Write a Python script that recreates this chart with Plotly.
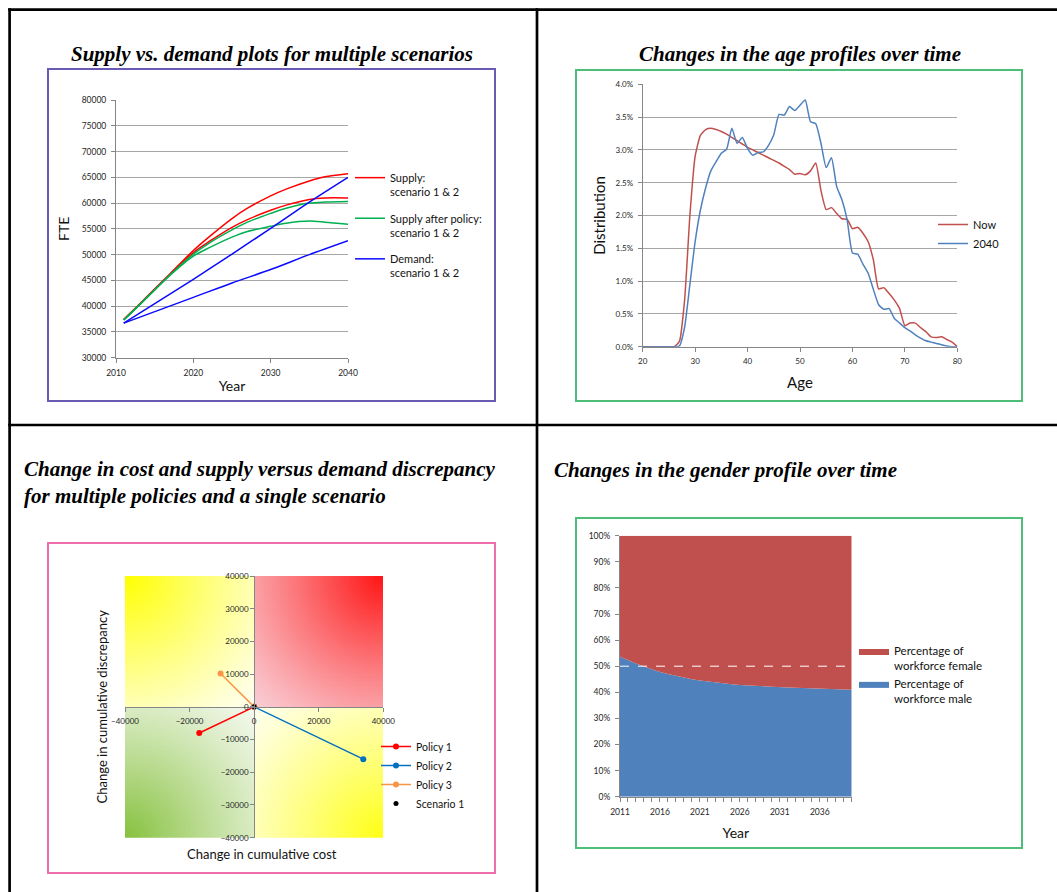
import numpy as np
import plotly.graph_objects as go

W, H = 1057, 892


def px(x):
    return x / W


def py(y):
    return 1 - y / H


# ---------------- Panel 1: supply vs demand ----------------
SUPPLY_YEARS = [2011, 2013, 2015, 2017, 2020, 2022, 2025, 2027, 2030, 2032, 2035, 2037, 2040]
SUPPLY_S1 = [37400, 40300, 43300, 46300, 50800, 53400, 57000, 59000, 61400, 62700, 64300, 65100, 65700]
SUPPLY_S2 = [37400, 40300, 43300, 46200, 50400, 52500, 55300, 56800, 58600, 59600, 60700, 61000, 61000]
POLICY_S1 = [37300, 40200, 43200, 46100, 50100, 52200, 54800, 56300, 58000, 59000, 60000, 60200, 60300]
POLICY_S2 = [37300, 40200, 43100, 46000, 49700, 51300, 53400, 54500, 55500, 56100, 56500, 56300, 55900]
DEMAND_YEARS = [2011, 2020, 2025, 2030, 2035, 2040]
DEMAND_S1 = [36700, 45200, 50100, 55100, 60200, 65000]
DEMAND_S2 = [36700, 41700, 44500, 47100, 50000, 52700]

# ---------------- Panel 2: age profiles ----------------
AGES = list(range(20, 81))
DIST_NOW = [0, 0, 0, 0, 0, 0, 0.0, 0.08, 0.72, 2.0, 2.9,
            3.22, 3.31, 3.33, 3.31, 3.28, 3.24, 3.19, 3.14, 3.09, 3.04,
            3.00, 2.96, 2.92, 2.88, 2.84, 2.80, 2.75, 2.70, 2.63, 2.64,
            2.62, 2.68, 2.80, 2.38, 2.09, 2.12, 2.03, 1.95, 1.94, 1.80,
            1.82, 1.73, 1.60, 1.32, 0.88, 0.90, 0.81, 0.71, 0.58, 0.32,
            0.36, 0.36, 0.29, 0.23, 0.15, 0.14, 0.15, 0.11, 0.07, 0.0]
DIST_2040 = [0, 0, 0, 0, 0, 0, 0.0, 0.01, 0.30, 0.95, 1.60,
             2.08, 2.42, 2.68, 2.82, 2.95, 3.01, 3.33, 3.10, 3.19, 3.02,
             2.92, 2.96, 2.97, 3.07, 3.23, 3.54, 3.53, 3.66, 3.60, 3.68,
             3.76, 3.43, 3.40, 3.10, 2.73, 2.88, 2.44, 2.24, 1.93, 1.43,
             1.41, 1.26, 1.12, 0.87, 0.64, 0.57, 0.58, 0.43, 0.36, 0.29,
             0.24, 0.18, 0.13, 0.09, 0.07, 0.05, 0.03, 0.01, 0.0, 0.0]

# ---------------- Panel 3: cost vs discrepancy ----------------
POLICIES = ["Policy 1", "Policy 2", "Policy 3"]
POLICY_COLORS = ["#ff0000", "#0070c0", "#f79646"]
COST_CHANGE = [-17000, 33800, -10400]
DISCREPANCY_CHANGE = [-8000, -16000, 10200]
SCENARIO_COST = [0]
SCENARIO_DISC = [0]

# ---------------- Panel 4: gender profile ----------------
GENDER_YEARS = list(range(2011, 2041))
MALE_PCT = [53.6, 52.2, 51.0, 49.9, 48.8, 47.8, 47.0, 46.3, 45.6, 45.0,
            44.5, 44.1, 43.7, 43.4, 43.1, 42.8, 42.6, 42.4, 42.2, 42.0,
            41.9, 41.8, 41.7, 41.6, 41.5, 41.4, 41.3, 41.2, 41.1, 41.0]
FEMALE_PCT = [46.4, 47.8, 49.0, 50.1, 51.2, 52.2, 53.0, 53.7, 54.4, 55.0,
              55.5, 55.9, 56.3, 56.6, 56.9, 57.2, 57.4, 57.6, 57.8, 58.0,
              58.1, 58.2, 58.3, 58.4, 58.5, 58.6, 58.7, 58.8, 58.9, 59.0]
PARITY = 50

SANS = "Lato"
SERIF = "Liberation Serif"
TICK_COL = "#262626"
AX_COL = "#868686"
GRID_COL = "#a6a6a6"

fig = go.Figure()

# ---- Panel 1 traces
def p1_line(x, y, name, color, show, group):
    fig.add_trace(go.Scatter(
        x=x, y=y, name=name, mode="lines", legendgroup=group, showlegend=show,
        line=dict(color=color, width=1.5, shape="spline", smoothing=0.8),
        xaxis="x", yaxis="y", legend="legend", hoverinfo="skip"))

p1_line(SUPPLY_YEARS, SUPPLY_S1, "Supply:<br>scenario 1 & 2", "#ff0000", True, "sup")
p1_line(SUPPLY_YEARS, SUPPLY_S2, "Supply:<br>scenario 1 & 2", "#ff0000", False, "sup")
p1_line(SUPPLY_YEARS, POLICY_S1, "Supply after policy:<br>scenario 1 & 2", "#00b050", True, "pol")
p1_line(SUPPLY_YEARS, POLICY_S2, "Supply after policy:<br>scenario 1 & 2", "#00b050", False, "pol")
p1_line(DEMAND_YEARS, DEMAND_S1, "Demand:<br>scenario 1 & 2", "#0a0aff", True, "dem")
p1_line(DEMAND_YEARS, DEMAND_S2, "Demand:<br>scenario 1 & 2", "#0a0aff", False, "dem")

# ---- Panel 2 traces
fig.add_trace(go.Scatter(x=AGES, y=DIST_NOW, name="Now", mode="lines",
                         line=dict(color="#c0504d", width=1.5, shape="spline", smoothing=0.5),
                         xaxis="x2", yaxis="y2", legend="legend2", hoverinfo="skip"))
fig.add_trace(go.Scatter(x=AGES, y=DIST_2040, name="2040", mode="lines",
                         line=dict(color="#4f81bd", width=1.5, shape="spline", smoothing=0.5),
                         xaxis="x2", yaxis="y2", legend="legend2", hoverinfo="skip"))

# ---- Panel 3 background gradient (decorative quadrants)
QUAD_COLORS = [("#fffff0", "#ffff00"),   # top-left
               ("#f9cdd4", "#ff1414"),   # top-right
               ("#f4f9ee", "#86c13e"),   # bottom-left
               ("#ffffee", "#ffff14")]   # bottom-right
cscale = []
for q, (c0, c1) in enumerate(QUAD_COLORS):
    cscale.append([q / 4, c0])
    cscale.append([(q + 1) / 4 - (1e-6 if q < 3 else 0), c1])
g = np.arange(-40000 + 250, 40000, 500)
GX, GY = np.meshgrid(g, g)
dist = np.hypot(40000 - np.abs(GX), 40000 - np.abs(GY)) / 40000
strength = np.clip(1 - dist / np.sqrt(2), 0, 0.999) ** 1.15
quad = np.where(GY >= 0, np.where(GX < 0, 0, 1), np.where(GX < 0, 2, 3))
fig.add_trace(go.Heatmap(x=g, y=g, z=quad + strength, zmin=0, zmax=4, colorscale=cscale,
                         showscale=False, hoverinfo="skip", xaxis="x3", yaxis="y3",
                         showlegend=False))

for name, col, cx, cy in zip(POLICIES, POLICY_COLORS, COST_CHANGE, DISCREPANCY_CHANGE):
    fig.add_trace(go.Scatter(x=[SCENARIO_COST[0], cx], y=[SCENARIO_DISC[0], cy], name=name,
                             mode="lines+markers", line=dict(color=col, width=1.5),
                             marker=dict(color=col, size=6), xaxis="x3", yaxis="y3",
                             legend="legend3", hoverinfo="skip"))
fig.add_trace(go.Scatter(x=SCENARIO_COST, y=SCENARIO_DISC, name="Scenario 1", mode="markers",
                         marker=dict(color="black", size=5), xaxis="x3", yaxis="y3",
                         legend="legend3", hoverinfo="skip"))

# ---- Panel 4 stacked area
fig.add_trace(go.Scatter(x=GENDER_YEARS, y=MALE_PCT, name="Percentage of<br>workforce male",
                         mode="lines", stackgroup="g", line=dict(width=0, color="#4f81bd"),
                         fillcolor="#4f81bd", xaxis="x4", yaxis="y4", legend="legend4",
                         hoverinfo="skip"))
fig.add_trace(go.Scatter(x=GENDER_YEARS, y=FEMALE_PCT, name="Percentage of<br>workforce female",
                         mode="lines", stackgroup="g", line=dict(width=0, color="#c0504d"),
                         fillcolor="#c0504d", xaxis="x4", yaxis="y4", legend="legend4",
                         hoverinfo="skip"))

tickfont = lambda s: dict(family=SANS, size=s, color=TICK_COL)
titlefont = lambda s: dict(family=SANS, size=s, color="#111111")

common_ax = dict(showline=True, linecolor=AX_COL, linewidth=1, ticks="outside",
                 tickcolor=AX_COL, ticklen=4, zeroline=False, automargin=False,
                 fixedrange=True)

layout = dict(
    width=W, height=H, autosize=False,
    margin=dict(l=0, r=0, t=0, b=0),
    paper_bgcolor="white", plot_bgcolor="white",
    showlegend=True,
    # panel 1
    xaxis=dict(domain=[px(116), px(348)], range=[2010, 2040], dtick=10, tick0=2010,
               showgrid=False, anchor="y", tickfont=tickfont(8.5), tickformat="d",
               ticklabelstandoff=3,
               title=dict(text="Year", font=titlefont(14), standoff=4), **common_ax),
    yaxis=dict(domain=[py(357.7), py(100)], range=[30000, 80000], dtick=5000, tickformat="d",
               showgrid=True, gridcolor=GRID_COL, gridwidth=1, anchor="x",
               tickfont=tickfont(8.5), ticklabelstandoff=3,
               title=dict(text="FTE", font=titlefont(14), standoff=8), **common_ax),
    # panel 2
    xaxis2=dict(domain=[px(642.7), px(957.3)], range=[20, 80], dtick=10, showgrid=False,
                anchor="y2", tickfont=tickfont(8), ticklabelstandoff=3,
                title=dict(text="Age", font=titlefont(15), standoff=12), **common_ax),
    yaxis2=dict(domain=[py(346.7), py(84.3)], range=[0, 4], dtick=0.5, tickformat=".1f",
                ticksuffix="%", showgrid=True, gridcolor=GRID_COL, anchor="x2",
                tickfont=tickfont(8), ticklabelstandoff=3,
                title=dict(text="Distribution", font=titlefont(15), standoff=6), **common_ax),
    # panel 3
    xaxis3=dict(domain=[px(125), px(383.3)], range=[-40000, 40000], dtick=20000, tickformat="d",
                showgrid=False, anchor="free", position=(py(837.7) + py(576)) / 2,
                tickfont=tickfont(8), ticklabelstandoff=3, **common_ax),
    yaxis3=dict(domain=[py(837.7), py(576)], range=[-40000, 40000], dtick=10000, tickformat="d",
                showgrid=False, anchor="free", position=(px(125) + px(383.3)) / 2,
                tickfont=tickfont(8), **common_ax),
    # panel 4
    xaxis4=dict(domain=[px(620), px(851.7)], range=[2011, 2040], tick0=2011, dtick=5,
                showgrid=False, anchor="y4", tickfont=tickfont(8.5), tickformat="d",
                ticklabelstandoff=3,
                minor=dict(dtick=1, ticks="outside", ticklen=4, tickcolor=AX_COL, showgrid=False),
                title=dict(text="Year", font=titlefont(14), standoff=12), **common_ax),
    yaxis4=dict(domain=[py(796.7), py(535.7)], range=[0, 100], dtick=10, ticksuffix="%",
                showgrid=False, anchor="x4", tickfont=tickfont(8.5), ticklabelstandoff=3,
                **common_ax),
    legend=dict(x=px(350), y=py(164), xanchor="left", yanchor="top", bgcolor="rgba(0,0,0,0)",
                font=dict(family=SANS, size=11, color="#111111"), traceorder="grouped",
                tracegroupgap=9, valign="top"),
    legend2=dict(x=px(933), y=py(210), xanchor="left", yanchor="top", bgcolor="rgba(0,0,0,0)",
                 font=dict(family=SANS, size=11, color="#111111")),
    legend3=dict(x=px(376), y=py(732), xanchor="left", yanchor="top", bgcolor="rgba(0,0,0,0)",
                 font=dict(family=SANS, size=10.5, color="#111111")),
    legend4=dict(x=px(854), y=py(637), xanchor="left", yanchor="top", bgcolor="rgba(0,0,0,0)",
                 font=dict(family=SANS, size=11.5, color="#111111"), traceorder="reversed",
                 valign="top"),
)
fig.update_layout(**layout)

# ---- panel titles and panel-3 axis titles
ann = [
    dict(text="<b><i>Supply vs. demand plots for multiple scenarios</i></b>", x=px(272), y=py(54),
         xanchor="center", yanchor="middle", font=dict(family=SERIF, size=21, color="black")),
    dict(text="<b><i>Changes in the age profiles over time</i></b>", x=px(800), y=py(54),
         xanchor="center", yanchor="middle", font=dict(family=SERIF, size=21, color="black")),
    dict(text="<b><i>Change in cost and supply versus demand discrepancy<br>for multiple policies and a single scenario</i></b>",
         x=px(22), y=py(482.5), xanchor="left", yanchor="middle", align="left",
         font=dict(family=SERIF, size=21, color="black")),
    dict(text="<b><i>Changes in the gender profile over time</i></b>", x=px(552), y=py(470),
         xanchor="left", yanchor="middle", font=dict(family=SERIF, size=21, color="black")),
    dict(text="Change in cumulative discrepancy", x=px(101.7), y=py(706.7), textangle=-90,
         xanchor="center", yanchor="middle", font=titlefont(13)),
    dict(text="Change in cumulative cost", x=px(261.7), y=py(854.3),
         xanchor="center", yanchor="middle", font=titlefont(13)),
]
for a in ann:
    a.update(xref="paper", yref="paper", showarrow=False)
fig.update_layout(annotations=ann)

# ---- table borders and panel frames
shapes = []
BLK = dict(color="black", width=2.7)
shapes.append(dict(type="line", x0=px(8.2), x1=1, y0=py(9.6), y1=py(9.6), line=BLK))
shapes.append(dict(type="line", x0=px(9.6), x1=px(9.6), y0=py(8.2), y1=0, line=BLK))
shapes.append(dict(type="line", x0=px(537), x1=px(537), y0=py(8.2), y1=0, line=BLK))
shapes.append(dict(type="line", x0=px(8.2), x1=1, y0=py(425), y1=py(425), line=BLK))
frames = [((48, 69, 495, 401), "#6a5ab4"), ((576, 70, 1022, 401), "#4dbe78"),
          ((48, 543, 495, 873), "#ec6eaa"), ((576, 518, 1022, 848), "#4dbe78")]
for (x0, y0, x1, y1), col in frames:
    shapes.append(dict(type="rect", x0=px(x0), x1=px(x1), y0=py(y1), y1=py(y0),
                       line=dict(color=col, width=2)))
for s in shapes:
    s.update(xref="paper", yref="paper")
shapes.append(dict(type="line", xref="x4", yref="y4", x0=GENDER_YEARS[0], x1=GENDER_YEARS[-1],
                   y0=PARITY, y1=PARITY, line=dict(color="white", width=1, dash="dash")))
fig.update_layout(shapes=shapes)

fig.write_html("out.html", config={"displayModeBar": False},
               post_script="document.body.style.margin='0';document.body.style.overflow='hidden';")
